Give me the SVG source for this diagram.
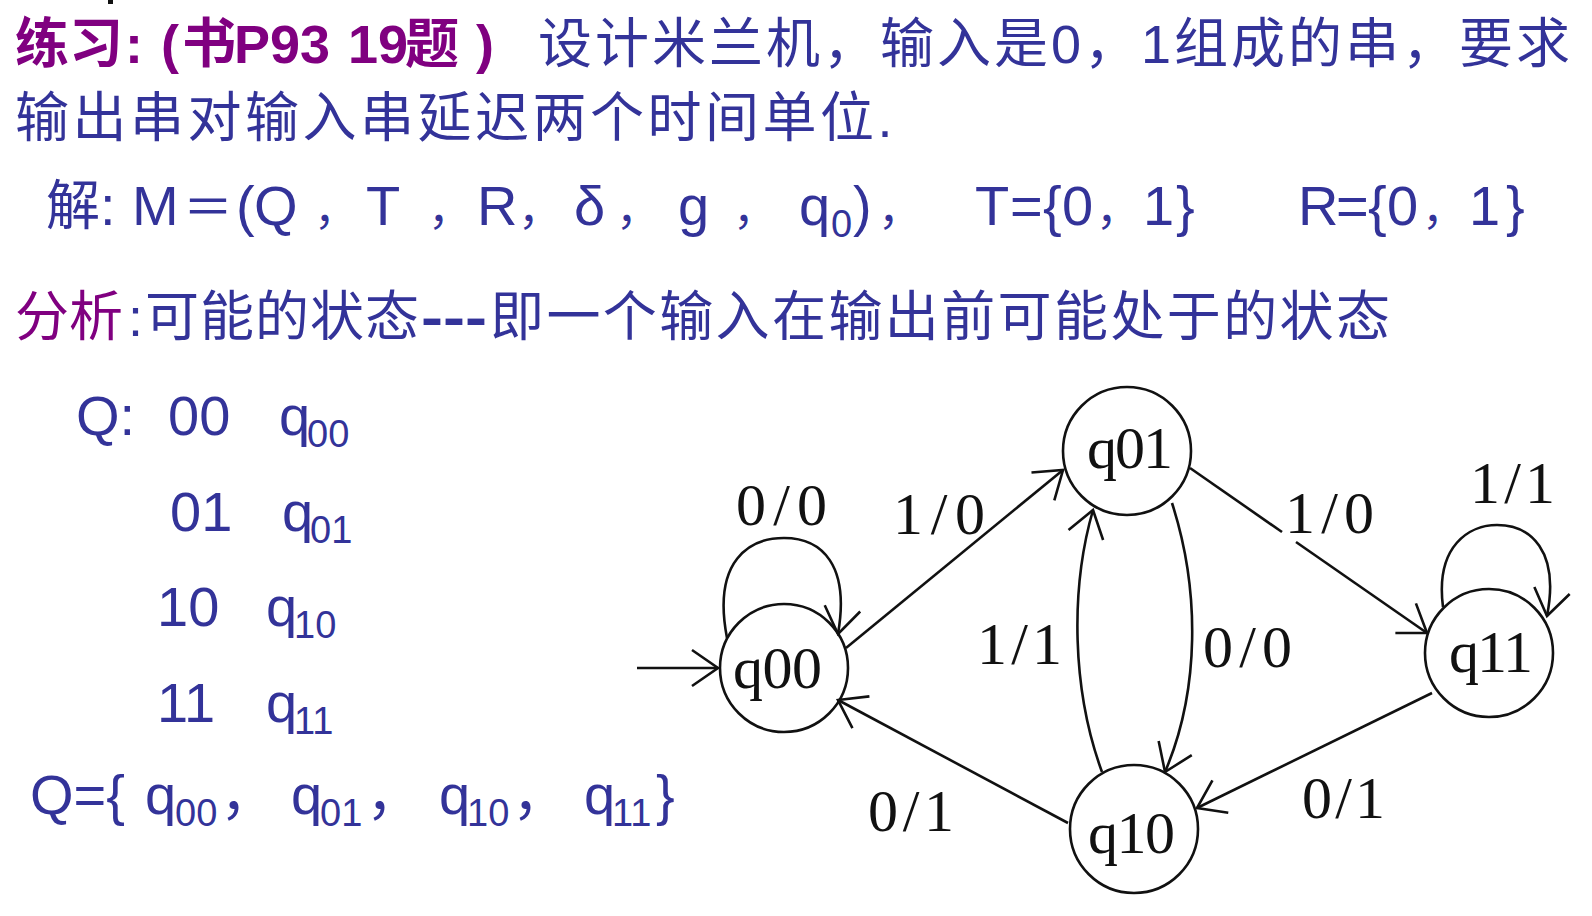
<svg xmlns="http://www.w3.org/2000/svg" width="1592" height="916" viewBox="0 0 1592 916">
<style>
.t{font-family:'Liberation Sans','Noto Sans CJK SC',sans-serif;font-size:54px;fill:#333399}
.pu{fill:#800080;font-weight:700}
.big{font-size:56px}
.sub{font-size:38px}
.cm{font-size:44px}
.nd{fill:none;stroke:#111;stroke-width:2.6}
.lb{font-family:'Liberation Serif',serif;font-size:60px;fill:#111}
.e{fill:none;stroke:#111;stroke-width:2.6}
</style>
<defs>
<marker id="ah" markerUnits="userSpaceOnUse" markerWidth="80" markerHeight="80" viewBox="-40 -40 80 80" refX="0" refY="0" orient="auto" overflow="visible">
<path d="M-26,-18 L0,0 L-26,18" fill="none" stroke="#111" stroke-width="2.6"/>
</marker>
</defs>
<rect x="108" y="0" width="5" height="4" fill="#111"/>
<g id="title">
<text class="t pu" y="63"><tspan x="15">练习</tspan><tspan x="125">:</tspan><tspan x="161">(</tspan><tspan x="182">书</tspan><tspan x="234">P93</tspan><tspan x="348">19</tspan><tspan x="405">题</tspan><tspan x="476">)</tspan></text>
<text class="t" x="538" y="63" letter-spacing="3">设计米兰机，输入是0，1组成的串，要求</text>
<text class="t" x="15" y="137" letter-spacing="3.5">输出串对输入串延迟两个时间单位.</text>
</g>
<g id="solution">
<text class="t big" y="225"><tspan x="46" font-size="54">解</tspan><tspan x="100">:</tspan><tspan x="132">M</tspan><tspan x="183" font-size="50">＝</tspan><tspan x="236">(</tspan><tspan x="254">Q</tspan><tspan class="cm" x="314">，</tspan><tspan x="366">T</tspan><tspan class="cm" x="428">，</tspan><tspan x="477">R</tspan><tspan class="cm" x="518">，</tspan><tspan x="574">δ</tspan><tspan class="cm" x="616">，</tspan><tspan x="678">g</tspan><tspan class="cm" x="733">，</tspan><tspan x="799">q</tspan><tspan class="sub" x="831" y="237">0</tspan><tspan x="853" y="225">)</tspan><tspan class="cm" x="878">，</tspan><tspan x="975">T</tspan><tspan x="1010">=</tspan><tspan x="1043">{</tspan><tspan x="1062">0</tspan><tspan class="cm" x="1096">，</tspan><tspan x="1143">1</tspan><tspan x="1176">}</tspan><tspan x="1298">R</tspan><tspan x="1336">=</tspan><tspan x="1368">{</tspan><tspan x="1387">0</tspan><tspan class="cm" x="1422">，</tspan><tspan x="1469">1</tspan><tspan x="1506">}</tspan></text>
</g>
<g id="analysis">
<text class="t" y="336"><tspan x="15" style="fill:#800080;font-weight:400">分析</tspan><tspan x="128">:</tspan><tspan x="145" letter-spacing="1">可能的状态</tspan><tspan x="421" font-weight="700" textLength="66" lengthAdjust="spacingAndGlyphs">---</tspan><tspan x="490" letter-spacing="2.4">即一个输入在输出前可能处于的状态</tspan></text>
</g>
<g id="states-list">
<text class="t big" y="435"><tspan x="76">Q:</tspan><tspan x="168">00</tspan><tspan x="279">q</tspan><tspan class="sub" x="307" y="447">00</tspan></text>
<text class="t big" y="531"><tspan x="170">01</tspan><tspan x="282">q</tspan><tspan class="sub" x="310" y="543">01</tspan></text>
<text class="t big" y="626"><tspan x="157">10</tspan><tspan x="266">q</tspan><tspan class="sub" x="294" y="638">10</tspan></text>
<text class="t big" y="722"><tspan x="157">11</tspan><tspan x="266">q</tspan><tspan class="sub" x="294" y="734">11</tspan></text>
<text class="t big" y="814"><tspan x="30">Q={</tspan><tspan x="145">q</tspan><tspan class="sub" x="175" y="826">00</tspan><tspan x="220" y="814">，</tspan><tspan x="291">q</tspan><tspan class="sub" x="320" y="826">01</tspan><tspan x="366" y="814">，</tspan><tspan x="439">q</tspan><tspan class="sub" x="467" y="826">10</tspan><tspan x="512" y="814">，</tspan><tspan x="584">q</tspan><tspan class="sub" x="612" y="826">11</tspan><tspan x="656" y="814">}</tspan></text>
</g>
<g id="node-q00"><circle class="nd" cx="784" cy="668" r="64"/><text class="lb" x="733" y="688" textLength="89">q00</text></g>
<g id="node-q01"><circle class="nd" cx="1127" cy="451" r="64"/><text class="lb" x="1087" y="468" textLength="86">q01</text></g>
<g id="node-q10"><circle class="nd" cx="1134" cy="829" r="64"/><text class="lb" x="1088" y="853" textLength="87">q10</text></g>
<g id="node-q11"><circle class="nd" cx="1489" cy="653" r="64"/><text class="lb" x="1449" y="672" textLength="84">q11</text></g>
<g id="connectors">
<path class="e" d="M637,668 L718,668" stroke-width="3.6" marker-end="url(#ah)"/>
<path class="e" d="M727,638 C712,560 750,538 784,538 C822,538 850,565 838,634" marker-end="url(#ah)"/>
<path class="e" d="M846,648 L1063,470" marker-end="url(#ah)"/>
<path class="e" d="M1190,468 L1282,532"/>
<path class="e" d="M1296,542 L1427,633" marker-end="url(#ah)"/>
<path class="e" d="M1172,503 C1200,590 1200,690 1165,772" marker-end="url(#ah)"/>
<path class="e" d="M1102,772 C1072,690 1070,590 1093,510" marker-end="url(#ah)"/>
<path class="e" d="M1068,823 L838,700" marker-end="url(#ah)"/>
<path class="e" d="M1432,693 L1197,808" marker-end="url(#ah)"/>
<path class="e" d="M1443,607 C1435,545 1470,525 1497,525 C1530,525 1560,550 1547,616" marker-end="url(#ah)"/>
</g>
<g id="edge-labels">
<text class="lb" x="736" y="525" textLength="91">0/0</text>
<text class="lb" x="893" y="534" textLength="92">1/0</text>
<text class="lb" x="1285" y="533" textLength="89">1/0</text>
<text class="lb" x="1470" y="503" textLength="85">1/1</text>
<text class="lb" x="977" y="664" textLength="85">1/1</text>
<text class="lb" x="1203" y="667" textLength="89">0/0</text>
<text class="lb" x="868" y="831" textLength="86">0/1</text>
<text class="lb" x="1302" y="818" textLength="83">0/1</text>
</g>
</svg>
